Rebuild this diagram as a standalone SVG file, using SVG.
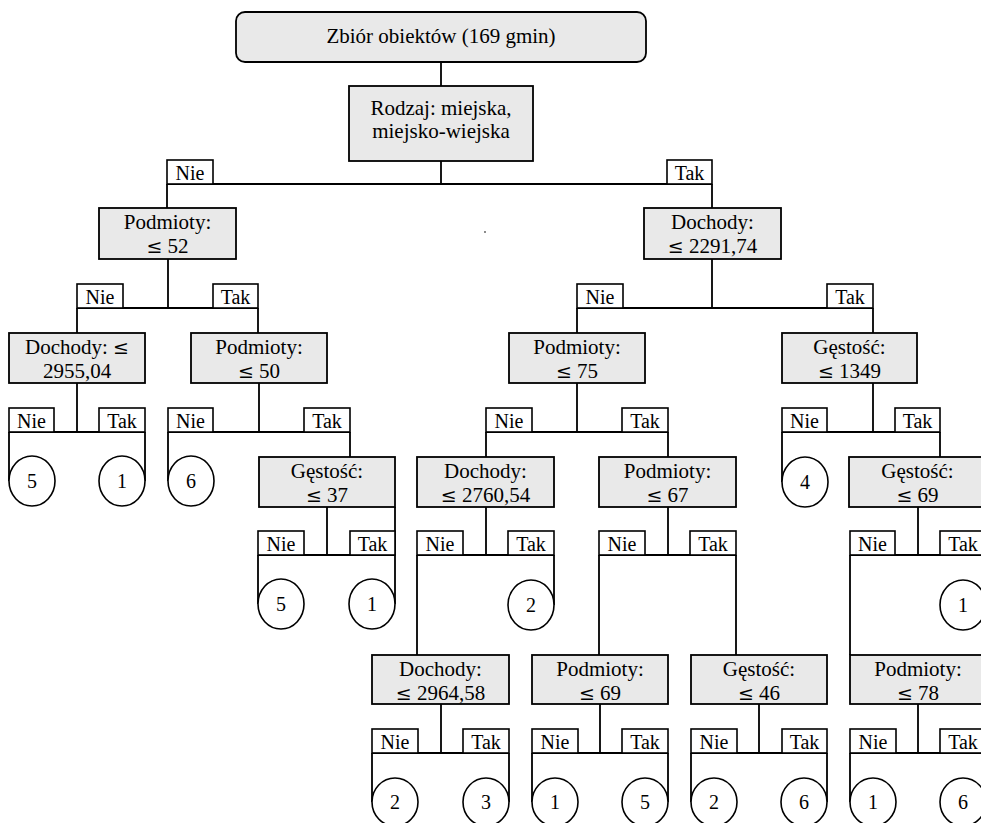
<svg xmlns="http://www.w3.org/2000/svg" width="981" height="823" viewBox="0 0 981 823">
<style>
.box{fill:#e9e9e9;stroke:#000;stroke-width:1.8}
.lab{fill:#fff;stroke:#000;stroke-width:1.6}
.leaf{fill:#fff;stroke:#000;stroke-width:1.6}
.c{fill:none;stroke:#000;stroke-width:1.8}
text{font-family:"Liberation Serif","Times New Roman",serif;font-size:20px;fill:#000;text-anchor:middle}
.n text{font-size:21px}
.le{font-family:"DejaVu Serif",serif;font-size:19px}
</style>
<rect width="981" height="823" fill="#fff"/>
<g id="connectors" class="c">
<path d="M441 62V86M441 161V184M167 184H712M167 184V208M712 184V208"/>
<path d="M168 259V308M77 308H258M77 308V333M258 308V333"/>
<path d="M712 259V308M577 308H873M577 308V333M873 308V333"/>
<path d="M77 383V432M9 432H145M9 432V481M145 432V481"/>
<path d="M259 383V432M168 432H350M168 432V481M350 432V457"/>
<path d="M577 383V432M486 432H668M486 432V457M668 432V457"/>
<path d="M873 383V432M782 432H940M782 432V482M940 432V457"/>
<path d="M327 507V555M258 555H395M258 555V604M395 507V604"/>
<path d="M486 507V555M417 555H554M554 555V605M417 555V655"/>
<path d="M668 507V555M599 555H736M599 555V655M736 555V655"/>
<path d="M918 507V555M850 555H986M850 555V655M986 555V605"/>
<path d="M441 704V753M372 753H509M372 753V802M509 753V802"/>
<path d="M600 704V753M532 753H668M532 753V802M668 753V802"/>
<path d="M759 704V753M691 753H827M691 753V802M827 753V802"/>
<path d="M918 704V753M850 753H986M850 753V802M986 753V802"/>
</g>
<g id="edge-labels">
<rect class="lab" x="167" y="160" width="46" height="24"/><text x="190" y="180">Nie</text>
<rect class="lab" x="667" y="160" width="45" height="24"/><text x="689.5" y="180">Tak</text>
<rect class="lab" x="77" y="284" width="46" height="24"/><text x="100" y="304">Nie</text>
<rect class="lab" x="213" y="284" width="45" height="24"/><text x="235.5" y="304">Tak</text>
<rect class="lab" x="577" y="284" width="46" height="24"/><text x="600" y="304">Nie</text>
<rect class="lab" x="827" y="284" width="46" height="24"/><text x="850" y="304">Tak</text>
<rect class="lab" x="9" y="408" width="45" height="24"/><text x="31.5" y="428">Nie</text>
<rect class="lab" x="99" y="408" width="46" height="24"/><text x="122" y="428">Tak</text>
<rect class="lab" x="168" y="408" width="45" height="24"/><text x="190.5" y="428">Nie</text>
<rect class="lab" x="304" y="408" width="46" height="24"/><text x="327" y="428">Tak</text>
<rect class="lab" x="486" y="408" width="46" height="24"/><text x="509" y="428">Nie</text>
<rect class="lab" x="622" y="408" width="46" height="24"/><text x="645" y="428">Tak</text>
<rect class="lab" x="782" y="408" width="45" height="24"/><text x="804.5" y="428">Nie</text>
<rect class="lab" x="895" y="408" width="45" height="24"/><text x="917.5" y="428">Tak</text>
<rect class="lab" x="258" y="531" width="46" height="24"/><text x="281" y="551">Nie</text>
<rect class="lab" x="350" y="531" width="45" height="24"/><text x="372.5" y="551">Tak</text>
<rect class="lab" x="417" y="531" width="46" height="24"/><text x="440" y="551">Nie</text>
<rect class="lab" x="508" y="531" width="46" height="24"/><text x="531" y="551">Tak</text>
<rect class="lab" x="599" y="531" width="46" height="24"/><text x="622" y="551">Nie</text>
<rect class="lab" x="690" y="531" width="46" height="24"/><text x="713" y="551">Tak</text>
<rect class="lab" x="850" y="531" width="45" height="24"/><text x="872.5" y="551">Nie</text>
<rect class="lab" x="940" y="531" width="46" height="24"/><text x="963" y="551">Tak</text>
<rect class="lab" x="372" y="729" width="46" height="24"/><text x="395" y="749">Nie</text>
<rect class="lab" x="463" y="729" width="46" height="24"/><text x="486" y="749">Tak</text>
<rect class="lab" x="532" y="729" width="46" height="24"/><text x="555" y="749">Nie</text>
<rect class="lab" x="622" y="729" width="46" height="24"/><text x="645" y="749">Tak</text>
<rect class="lab" x="691" y="729" width="46" height="24"/><text x="714" y="749">Nie</text>
<rect class="lab" x="782" y="729" width="45" height="24"/><text x="804.5" y="749">Tak</text>
<rect class="lab" x="850" y="729" width="46" height="24"/><text x="873" y="749">Nie</text>
<rect class="lab" x="940" y="729" width="46" height="24"/><text x="963" y="749">Tak</text>
</g>
<g class="n">
<g id="n-root"><rect class="box" x="236" y="12" width="410" height="50" rx="9"/><text x="441" y="43">Zbiór obiektów (169 gmin)</text></g>
<g id="n-rodzaj"><rect class="box" x="349" y="86" width="184" height="75"/><text x="441" y="115">Rodzaj: miejska,</text><text x="441" y="138">miejsko-wiejska</text></g>
<g id="n-podmioty52"><rect class="box" x="99" y="208" width="137" height="51"/><text x="167.5" y="229">Podmioty:</text><text x="167.5" y="253"><tspan class="le">≤</tspan> 52</text></g>
<g id="n-dochody2291"><rect class="box" x="644" y="208" width="137" height="51"/><text x="712.5" y="229">Dochody:</text><text x="712.5" y="253"><tspan class="le">≤</tspan> 2291,74</text></g>
<g id="n-dochody2955"><rect class="box" x="9" y="333" width="136" height="50"/><text x="77" y="354">Dochody: <tspan class="le">≤</tspan></text><text x="77" y="378">2955,04</text></g>
<g id="n-podmioty50"><rect class="box" x="191" y="333" width="136" height="50"/><text x="259" y="354">Podmioty:</text><text x="259" y="378"><tspan class="le">≤</tspan> 50</text></g>
<g id="n-podmioty75"><rect class="box" x="509" y="333" width="136" height="50"/><text x="577" y="354">Podmioty:</text><text x="577" y="378"><tspan class="le">≤</tspan> 75</text></g>
<g id="n-gestosc1349"><rect class="box" x="782" y="333" width="135" height="50"/><text x="849.5" y="354">Gęstość:</text><text x="849.5" y="378"><tspan class="le">≤</tspan> 1349</text></g>
<g id="n-gestosc37"><rect class="box" x="259" y="457" width="136" height="50"/><text x="327" y="478">Gęstość:</text><text x="327" y="502"><tspan class="le">≤</tspan> 37</text></g>
<g id="n-dochody2760"><rect class="box" x="417" y="457" width="137" height="50"/><text x="485.5" y="478">Dochody:</text><text x="485.5" y="502"><tspan class="le">≤</tspan> 2760,54</text></g>
<g id="n-podmioty67"><rect class="box" x="599" y="457" width="137" height="50"/><text x="667.5" y="478">Podmioty:</text><text x="667.5" y="502"><tspan class="le">≤</tspan> 67</text></g>
<g id="n-gestosc69"><rect class="box" x="849" y="457" width="137" height="50"/><text x="917.5" y="478">Gęstość:</text><text x="917.5" y="502"><tspan class="le">≤</tspan> 69</text></g>
<g id="n-dochody2964"><rect class="box" x="372" y="655" width="137" height="49"/><text x="440.5" y="676">Dochody:</text><text x="440.5" y="700"><tspan class="le">≤</tspan> 2964,58</text></g>
<g id="n-podmioty69"><rect class="box" x="532" y="655" width="136" height="49"/><text x="600" y="676">Podmioty:</text><text x="600" y="700"><tspan class="le">≤</tspan> 69</text></g>
<g id="n-gestosc46"><rect class="box" x="691" y="655" width="136" height="49"/><text x="759" y="676">Gęstość:</text><text x="759" y="700"><tspan class="le">≤</tspan> 46</text></g>
<g id="n-podmioty78"><rect class="box" x="850" y="655" width="136" height="49"/><text x="918" y="676">Podmioty:</text><text x="918" y="700"><tspan class="le">≤</tspan> 78</text></g>
</g>
<g id="leaves">
<g id="leaf-a"><ellipse class="leaf" cx="32" cy="481" rx="23" ry="25"/><text x="32" y="488">5</text></g>
<g id="leaf-b"><ellipse class="leaf" cx="122" cy="481" rx="23" ry="25"/><text x="122" y="488">1</text></g>
<g id="leaf-c"><ellipse class="leaf" cx="191" cy="481" rx="23" ry="25"/><text x="191" y="488">6</text></g>
<g id="leaf-d"><ellipse class="leaf" cx="805" cy="482" rx="23" ry="25"/><text x="805" y="489">4</text></g>
<g id="leaf-e"><ellipse class="leaf" cx="281" cy="604" rx="23" ry="25"/><text x="281" y="611">5</text></g>
<g id="leaf-f"><ellipse class="leaf" cx="372" cy="604" rx="23" ry="25"/><text x="372" y="611">1</text></g>
<g id="leaf-g"><ellipse class="leaf" cx="531" cy="605" rx="23" ry="25"/><text x="531" y="612">2</text></g>
<g id="leaf-h"><ellipse class="leaf" cx="963" cy="605" rx="23" ry="25"/><text x="963" y="612">1</text></g>
<g id="leaf-i"><ellipse class="leaf" cx="395" cy="802" rx="23" ry="24"/><text x="395" y="809">2</text></g>
<g id="leaf-j"><ellipse class="leaf" cx="486" cy="802" rx="23" ry="24"/><text x="486" y="809">3</text></g>
<g id="leaf-k"><ellipse class="leaf" cx="555" cy="802" rx="23" ry="24"/><text x="555" y="809">1</text></g>
<g id="leaf-l"><ellipse class="leaf" cx="645" cy="802" rx="23" ry="24"/><text x="645" y="809">5</text></g>
<g id="leaf-m"><ellipse class="leaf" cx="714" cy="802" rx="23" ry="24"/><text x="714" y="809">2</text></g>
<g id="leaf-n"><ellipse class="leaf" cx="804" cy="802" rx="23" ry="24"/><text x="804" y="809">6</text></g>
<g id="leaf-o"><ellipse class="leaf" cx="873" cy="802" rx="23" ry="24"/><text x="873" y="809">1</text></g>
<g id="leaf-p"><ellipse class="leaf" cx="963" cy="802" rx="23" ry="24"/><text x="963" y="809">6</text></g>
</g>
<circle cx="485" cy="232" r="0.9" fill="#555"/>
</svg>
